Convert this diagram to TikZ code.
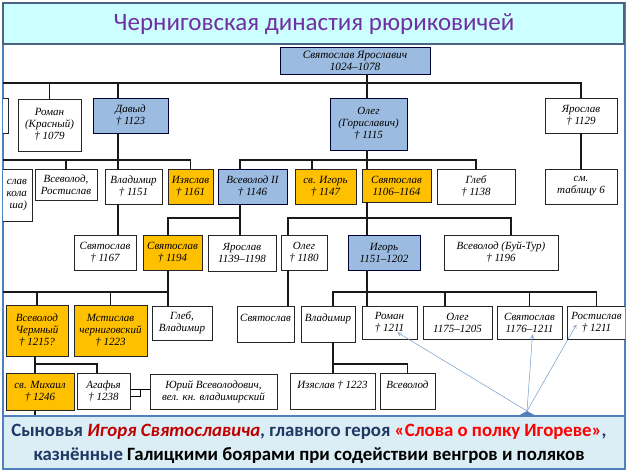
\documentclass[tikz,border=0pt]{standalone}
\usepackage{fontspec}
\setmainfont{Liberation Serif}
\newfontfamily\capfont{Carlito}
\usetikzlibrary{shadows,arrows.meta}
\definecolor{blueb}{HTML}{9BBBE0}
\definecolor{goldb}{HTML}{FFC000}
\definecolor{titlef}{HTML}{CCFFFF}
\definecolor{titled}{HTML}{4A6480}
\definecolor{capf}{HTML}{DCEEF5}
\definecolor{frameb}{HTML}{4F81BD}
\definecolor{navy}{HTML}{1F3864}
\definecolor{darkred}{HTML}{C00000}
\definecolor{purp}{HTML}{7030A0}
\tikzset{
  pers/.style={draw=black!85, line width=0.8pt, fill=white, align=center,
    inner sep=1pt, font=\itshape\fontsize{11}{12}\selectfont},
  pblue/.style={pers, fill=blueb, draw=black!80!blue,
    drop shadow={shadow xshift=1.3pt, shadow yshift=-1.3pt, fill=black!60}},
  pgold/.style={pers, fill=goldb,
    drop shadow={shadow xshift=1.3pt, shadow yshift=-1.3pt, fill=black!45}},
  bus/.style={line width=1.3pt, black!90},
  hint/.style={frameb!80, line width=0.5pt, -{To[length=4pt,width=4pt]}}
}
\begin{document}
\begin{tikzpicture}[x=1pt, y=-1pt]
\useasboundingbox (0,0) rectangle (628,473);
\fill[white] (0,0) rectangle (628,473);
\draw[frameb, line width=1.2pt] (3,3) rectangle (625,469);

\begin{scope}
\clip (3,44) rectangle (625,416);
% columns and bus levels
\coordinate (xd) at (118,0);
\coordinate (xo) at (367,0);
\coordinate (xv) at (240,0);
\coordinate (xi) at (312,0);
\coordinate (xs) at (168,0);
\coordinate (xq) at (288,0);
\coordinate (xb) at (511,0);
\coordinate (xl) at (445,0);
\coordinate (xc) at (35,0);
\coordinate (xa) at (97,0);
\coordinate (xw) at (333,0);
\coordinate (b1) at (-20,83);
\coordinate (b2) at (-20,160);
\coordinate (b3) at (-20,218);
\coordinate (b4) at (-20,292);
\coordinate (b5) at (-20,364);

% generation 1
\node[pblue, minimum width=150, minimum height=27, font=\itshape\fontsize{11.2}{12.2}\selectfont] (top) at (355,60.5) {Святослав Ярославич\\1024–1078};
% generation 2
\node[pers, minimum width=38, minimum height=35] (lost) at (-11,115.5) {};
\node[pers, minimum width=63, minimum height=52] (roman) at (49.5,125) {Роман\\(Красный)\\† 1079};
\node[pblue, minimum width=75, minimum height=35] (dav) at (130.5,115.5) {Давыд\\† 1123};
\node[pblue, minimum width=77, minimum height=52] (ol) at (368.5,124) {Олег\\(Гориславич)\\† 1115};
\node[pers, minimum width=72, minimum height=35] (yar) at (581,115.5) {Ярослав\\† 1129};
% generation 3
\node[pers, minimum width=72, minimum height=52, text width=62, align=right] (nik) at (-4,195) {слав\\кола\\ша)};
\node[pers, minimum width=62, minimum height=31] (vr) at (66,184.5) {Всеволод,\\Ростислав};
\node[pers, minimum width=57, minimum height=35] (vlad) at (133.5,186.5) {Владимир\\† 1151};
\node[pgold, minimum width=45, minimum height=35] (izya) at (190.5,186.5) {Изяслав\\† 1161};
\node[pblue, minimum width=69, minimum height=35] (vs2) at (252.5,186.5) {Всеволод II\\† 1146};
\node[pgold, minimum width=61, minimum height=35] (igor1) at (325.5,186.5) {св. Игорь\\† 1147};
\node[pgold, minimum width=69, minimum height=33] (sv2) at (396.5,185.5) {Святослав\\1106–1164};
\node[pers, minimum width=78, minimum height=35] (gleb) at (476,186.5) {Глеб\\† 1138};
\node[pers, minimum width=72, minimum height=35] (tab) at (581,186.5) {см.\\таблицу 6};
% generation 4
\node[pers, minimum width=62, minimum height=35] (s1167) at (105,252.5) {Святослав\\† 1167};
\node[pgold, minimum width=59, minimum height=35] (s1194) at (172.5,252.5) {Святослав\\† 1194};
\node[pers, minimum width=68, minimum height=36] (y1139) at (242,253) {Ярослав\\1139–1198};
\node[pers, minimum width=46, minimum height=35] (o1180) at (304,252.5) {Олег\\† 1180};
\node[pblue, minimum width=72, minimum height=35] (igor) at (384,252.5) {Игорь\\1151–1202};
\node[pers, minimum width=114, minimum height=35] (bt) at (501,252.5) {Всеволод (Буй-Тур)\\† 1196};
% generation 5
\node[pgold, minimum width=62, minimum height=51] (chrm) at (37,330.5) {Всеволод\\Чермный\\† 1215?};
\node[pgold, minimum width=73, minimum height=51] (mst) at (110.5,330.5) {Мстислав\\черниговский\\† 1223};
\node[pers, minimum width=60, minimum height=34] (gv) at (182,323) {Глеб,\\Владимир};
\node[pers, minimum width=57, minimum height=36] (s237) at (265.5,324) {Святослав\\\mbox{}};
\node[pers, minimum width=54, minimum height=36] (vl2) at (328,324) {Владимир\\\mbox{}};
\node[pers, minimum width=55, minimum height=33] (rom2) at (389.5,322.5) {Роман\\† 1211};
\node[pers, minimum width=69, minimum height=33] (ol2) at (457.5,322.5) {Олег\\1175–1205};
\node[pers, minimum width=65, minimum height=33] (sv3) at (529.5,322.5) {Святослав\\1176–1211};
\node[pers, minimum width=59, minimum height=33] (ros) at (596.5,322.5) {Ростислав\\† 1211};
% generation 6
\node[pgold, minimum width=68, minimum height=37] (mih) at (40,391.5) {св. Михаил\\† 1246};
\node[pers, minimum width=53, minimum height=36] (aga) at (103.5,391) {Агафья\\† 1238};
\node[pers, minimum width=127, minimum height=35] (yur) at (213.5,391.5) {Юрий Всеволодович,\\вел. кн. владимирский};
\node[pers, minimum width=85, minimum height=36] (iz2) at (332.5,391) {Изяслав † 1223\\\mbox{}};
\node[pers, minimum width=55, minimum height=36] (vs3) at (407.5,391) {Всеволод\\\mbox{}};

% links
\draw[bus] (top.south -| xo) -- (ol.north -| xo);
\draw[bus] (b1) -| (yar.north);
\draw[bus] (roman.north) -- (roman.north |- b1);
\draw[bus] (dav.north -| xd) -- (b1 -| xd);
\draw[bus] (dav.south -| xd) -- (vlad.north -| xd);
\draw[bus] (b2) -| (izya.north);
\draw[bus] (nik.north) -- (nik.north |- b2);
\draw[bus] (vr.north) -- (vr.north |- b2);
\draw[bus] (ol.south -| xo) -- (sv2.north -| xo);
\draw[bus] (vs2.north -| xv) |- (b2 -| gleb) -- (gleb.north);
\draw[bus] (igor1.north -| xi) -- (b2 -| xi);
\draw[bus] (yar.south) -- (tab.north);
\draw[bus] (vlad.south -| xd) -- (s1167.north -| xd);
\draw[bus] (vs2.south -| xv) -- (y1139.north -| xv);
\draw[bus] (b3 -| xv) -| (s1194.north -| xs);
\draw[bus] (sv2.south -| xo) -- (igor.north -| xo);
\draw[bus] (o1180.north -| xq) |- (b3 -| xb) -- (bt.north -| xb);
\draw[bus] (s1194.south -| xs) -- (gv.north -| xs);
\draw[bus] (b4) -- (b4 -| xs);
\draw[bus] (chrm.north) -- (chrm.north |- b4);
\draw[bus] (mst.north) -- (mst.north |- b4);
\draw[bus] (o1180.south -| xq) -- (s237.north -| xq);
\draw[bus] (igor.south -| xo) -- (rom2.north -| xo);
\draw[bus] (vl2.north -| xw) |- (b4 -| ros) -- (ros.north);
\draw[bus] (ol2.north -| xl) -- (b4 -| xl);
\draw[bus] (sv3.north) -- (sv3.north |- b4);
\draw[bus] (chrm.south -| xc) -- (mih.north -| xc);
\draw[bus] (b5 -| xc) -| (aga.north -| xa);
\draw[bus] (mih.south -| xc) -- ++(0,10);
\draw[bus] (vl2.south -| xw) -- (iz2.north -| xw);
\draw[bus] (b5 -| xw) -| (vs3.north);
% marriage
\draw[line width=0.8pt] ([yshift=2pt]aga.east) -- ([yshift=2pt]aga.east -| yur.west);
\draw[line width=0.8pt] ([yshift=-5pt]aga.east) -- ++(10,0) |- ([yshift=2pt]aga.east);
\end{scope}

% title
\draw[titled, fill=titlef, line width=1.2pt] (3,3) rectangle (624,44);
\node[font=\capfont\fontsize{25}{27}\selectfont, text=purp] (title) at (314,24) {Черниговская династия рюриковичей};

% caption
\draw[frameb, fill=capf, line width=1.2pt] (3,416) rectangle (625,469);
\coordinate (pt) at (527,411);
\fill[frameb] (517,416.5) -- (pt) -- (537,416.5) -- cycle;
\draw[hint] (pt) -- ([shift={(8,10)}]rom2.center);
\draw[hint] (pt) -- ([shift={(3,12)}]sv3.center);
\draw[hint] (pt) -- ([shift={(-20,2)}]ros.center);
\node[font=\capfont\bfseries\fontsize{18.8}{21}\selectfont, text=navy] (cap1) at (309,432)
  {Сыновья \textcolor{darkred}{\itshape Игоря Святославича}, главного героя \textcolor{red}{«Слова о полку Игореве»},};
\node[font=\capfont\bfseries\fontsize{18.8}{21}\selectfont, text=black] (cap2) at (309,456)
  {\textcolor{navy}{казнённые} Галицкими боярами при содействии венгров и поляков};
\end{tikzpicture}
\end{document}
